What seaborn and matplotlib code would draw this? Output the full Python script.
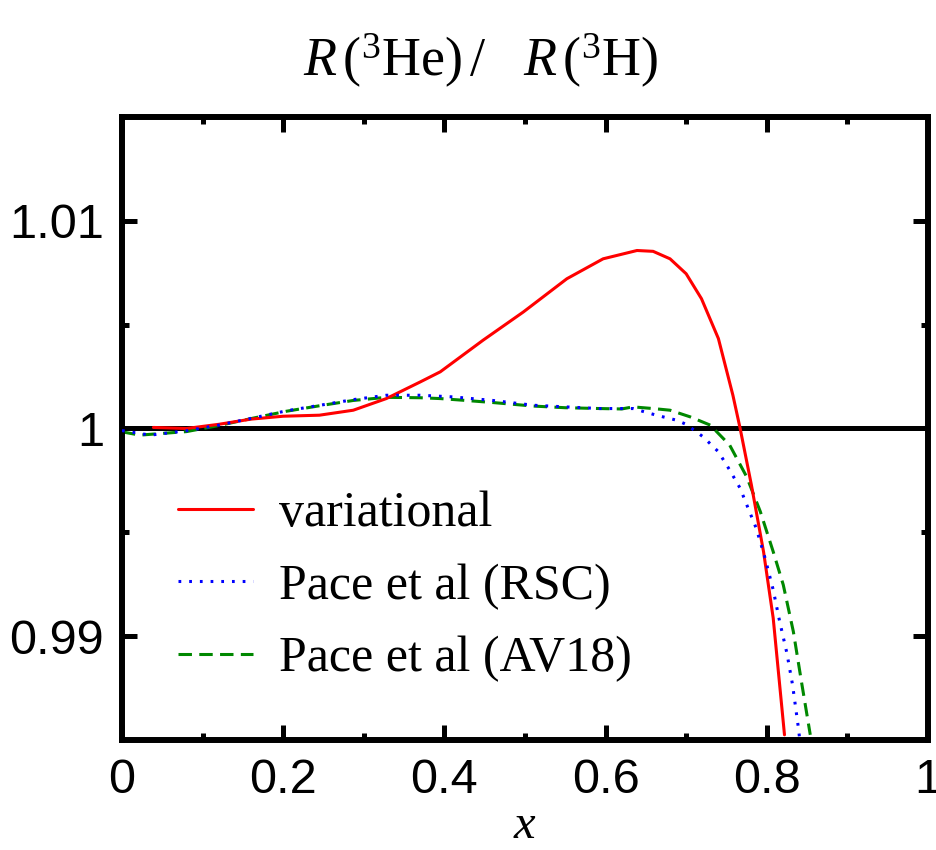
import matplotlib
matplotlib.use('Agg')
import matplotlib.pyplot as plt
import seaborn as sns
import pandas as pd

# 读出的曲线数据
var_x = [0.039, 0.08, 0.12, 0.16, 0.20, 0.245, 0.287, 0.328, 0.37, 0.395, 0.448, 0.498,
         0.552, 0.597, 0.639, 0.659, 0.680, 0.700, 0.719, 0.740, 0.758, 0.767, 0.781,
         0.796, 0.808, 0.816, 0.822]
var_y = [1.00005, 1.0, 1.0002, 1.00045, 1.00059, 1.00064, 1.00088, 1.00144, 1.00224,
         1.00273, 1.00425, 1.00561, 1.00721, 1.00817, 1.00857, 1.00853, 1.00817, 1.00745,
         1.00625, 1.00433, 1.0016, 1.0, 0.99727, 0.99407, 0.99087, 0.98766, 0.98525]

rsc_x = [0.0, 0.035, 0.08, 0.12, 0.163, 0.204, 0.246, 0.287, 0.328, 0.37, 0.411, 0.46,
         0.51, 0.55, 0.593, 0.634, 0.663, 0.688, 0.700, 0.721, 0.740, 0.754, 0.767, 0.777,
         0.787, 0.798, 0.808, 0.816, 0.825, 0.832, 0.839, 0.841]
rsc_y = [0.9999, 0.99968, 0.99989, 1.00016, 1.00051, 1.00085, 1.00112, 1.00139, 1.0016,
         1.0016, 1.00152, 1.00135, 1.00112, 1.00104, 1.00096, 1.00096, 1.00064, 1.0004,
         1.0002, 0.9996, 0.99888, 0.998, 0.99712, 0.99615, 0.99519, 0.99375, 0.99223,
         0.99071, 0.98918, 0.98766, 0.98566, 0.985]

av18_x = [0.0, 0.022, 0.08, 0.12, 0.163, 0.204, 0.246, 0.287, 0.328, 0.37, 0.395, 0.423,
          0.46, 0.51, 0.55, 0.593, 0.620, 0.634, 0.659, 0.680, 0.705, 0.730, 0.754, 0.775,
          0.792, 0.808, 0.8205, 0.833, 0.843, 0.854]
av18_y = [0.99984, 0.99968, 0.99985, 1.00014, 1.0005, 1.00083, 1.0011, 1.00135, 1.0015,
          1.00148, 1.00144, 1.00136, 1.00125, 1.00108, 1.001, 1.00096, 1.00094, 1.00104,
          1.00096, 1.00088, 1.00056, 1.00016, 0.9992, 0.99768, 0.996, 0.99407, 0.99247,
          0.99022, 0.98782, 0.98525]

labels = ['variational', 'Pace et al (RSC)', 'Pace et al (AV18)']
xticks = [0, 0.2, 0.4, 0.6, 0.8, 1.0]
xtick_labels = ['0', '0.2', '0.4', '0.6', '0.8', '1']
yticks = [0.99, 1.0, 1.01]
ytick_labels = ['0.99', '1', '1.01']

sns.set_style('ticks')
plt.rcParams['font.family'] = ['Liberation Sans', 'DejaVu Sans']
plt.rcParams['mathtext.fontset'] = 'custom'
plt.rcParams['mathtext.rm'] = 'Liberation Serif'
plt.rcParams['mathtext.it'] = 'Liberation Serif:italic'
plt.rcParams['axes.edgecolor'] = 'black'
plt.rcParams['xtick.color'] = 'black'
plt.rcParams['ytick.color'] = 'black'
plt.rcParams['text.color'] = 'black'
plt.rcParams['axes.labelcolor'] = 'black'

fig = plt.figure(figsize=(9.36, 8.5), dpi=100)
ax = fig.add_axes([0.1303, 0.1294, 0.8611, 0.733])

ax.axhline(1.0, color='black', lw=3.6, zorder=1)

sns.lineplot(x=var_x, y=var_y, ax=ax, color='#ff0000', lw=2.2, label=labels[0],
             sort=False, estimator=None, zorder=3)
sns.lineplot(x=rsc_x, y=rsc_y, ax=ax, color='#0000ff', lw=2.2, label=labels[1],
             sort=False, estimator=None, linestyle=(0, (0.9, 2.6)), zorder=3)
sns.lineplot(x=av18_x, y=av18_y, ax=ax, color='#008800', lw=2.2, label=labels[2],
             sort=False, estimator=None, linestyle=(0, (4.4, 2.4)), zorder=2)

ax.set_xlim(0, 1)
ax.set_ylim(0.985, 1.015)
ax.set_xticks(xticks)
ax.set_xticklabels(xtick_labels)
ax.set_yticks(yticks)
ax.set_yticklabels(ytick_labels)
ax.set_xticks([0.1, 0.3, 0.5, 0.7, 0.9], minor=True)
ax.set_yticks([0.995, 1.005], minor=True)

for s in ax.spines.values():
    s.set_linewidth(4.3)
    s.set_visible(True)
    s.set_color('black')
ax.tick_params(which='both', direction='in', top=True, right=True, width=3.6,
               labelsize=35, pad=13, color='black', labelcolor='black')
ax.tick_params(which='major', length=11)
ax.tick_params(which='minor', length=5)

ax.set_xlabel(r'$\mathit{x}$', fontsize=35, labelpad=0)
ax.set_ylabel('')

fig.text(0.513, 0.91, r'$\mathit{R}\,(^{3}\mathrm{He})\,/\quad\mathit{R}\,(^{3}\mathrm{H})$',
         fontsize=39, ha='center', va='baseline')

leg = ax.legend(loc='upper left', bbox_to_anchor=(0.07, 0.40), frameon=False,
                prop={'family': 'Liberation Serif', 'size': 36}, handlelength=1.5,
                handletextpad=0.52, labelspacing=0.52, borderpad=0, borderaxespad=0)

plt.savefig('out.png', dpi=100)
